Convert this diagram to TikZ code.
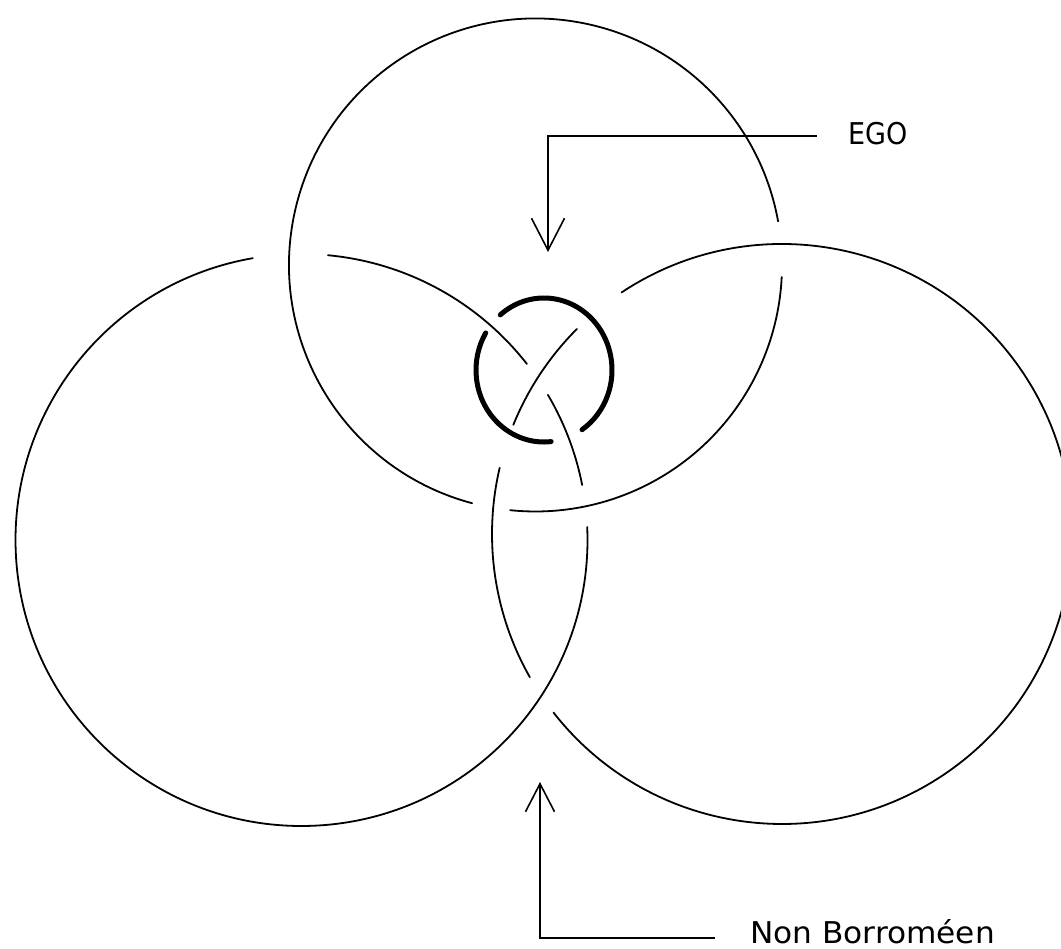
\documentclass[tikz,border=0pt]{standalone}
\usepackage{fontspec}
\newfontfamily\lblfont[FakeStretch=0.9]{DejaVu Sans}
\newfontfamily\lblfontwide[FakeStretch=1.04]{DejaVu Sans}
\usetikzlibrary{arrows.meta}
\tikzset{
  ring/.style={line width=1.8pt, line cap=round},
  egoring/.style={line width=5pt, line cap=round},
  pointer/.style={line width=1.6pt},
  label/.style={inner sep=0pt, font=\lblfont\fontsize{30}{36}\selectfont},
  widelabel/.style={label, font=\lblfontwide\fontsize{30}{36}\selectfont},
}
\begin{document}
\begin{tikzpicture}[x=1pt, y=-1pt]
\useasboundingbox[fill=white] (0,0) rectangle (1061,949);
% top circle T
\coordinate (T) at (535.5,265);
\draw[ring] (T) ++(2.8:246.5) arc[start angle=2.8, end angle=95.9, radius=246.5];
\draw[ring] (T) ++(104.9:246.5) arc[start angle=104.9, end angle=349.8, radius=246.5];
% left circle L
\coordinate (L) at (301.5,540);
\draw[ring] (L) ++(-84.7:286) arc[start angle=-84.7, end angle=-38.0, radius=286];
\draw[ring] (L) ++(-30.5:286) arc[start angle=-30.5, end angle=-11.1, radius=286];
\draw[ring] (L) ++(-2.6:286) arc[start angle=-2.6, end angle=260.2, radius=286];
% right circle R
\coordinate (R) at (782,534);
\draw[ring] (R) ++(-123.6:290) arc[start angle=-123.6, end angle=142.0, radius=290];
\draw[ring] (R) ++(150.4:290) arc[start angle=150.4, end angle=193.2, radius=290];
\draw[ring] (R) ++(202.1:290) arc[start angle=202.1, end angle=225.0, radius=290];
% ego ring
\coordinate (E) at (544,370);
\draw[egoring] (E) ++(-130:68 and 72) arc[start angle=-130, end angle=56, x radius=68, y radius=72];
\draw[egoring] (E) ++(84:68 and 72) arc[start angle=84, end angle=211, x radius=68, y radius=72];
% labels and pointers
\node[label, anchor=base west] (egoLabel) at (848,145) {EGO};
\coordinate (egoTip) at (548,252);
\draw[pointer, shorten <=31pt, -{Straight Barb[length=32pt, width=33pt]}]
  ([yshift=9pt]egoLabel.base west) -| (egoTip);
\node[widelabel, anchor=base west] (nbLabel) at (750,943) {Non Borroméen};
\coordinate (nbTip) at (540,782);
\draw[pointer, shorten <=35pt, -{Straight Barb[length=28pt, width=29pt]}]
  ([yshift=5pt]nbLabel.base west) -| (nbTip);
\end{tikzpicture}
\end{document}
